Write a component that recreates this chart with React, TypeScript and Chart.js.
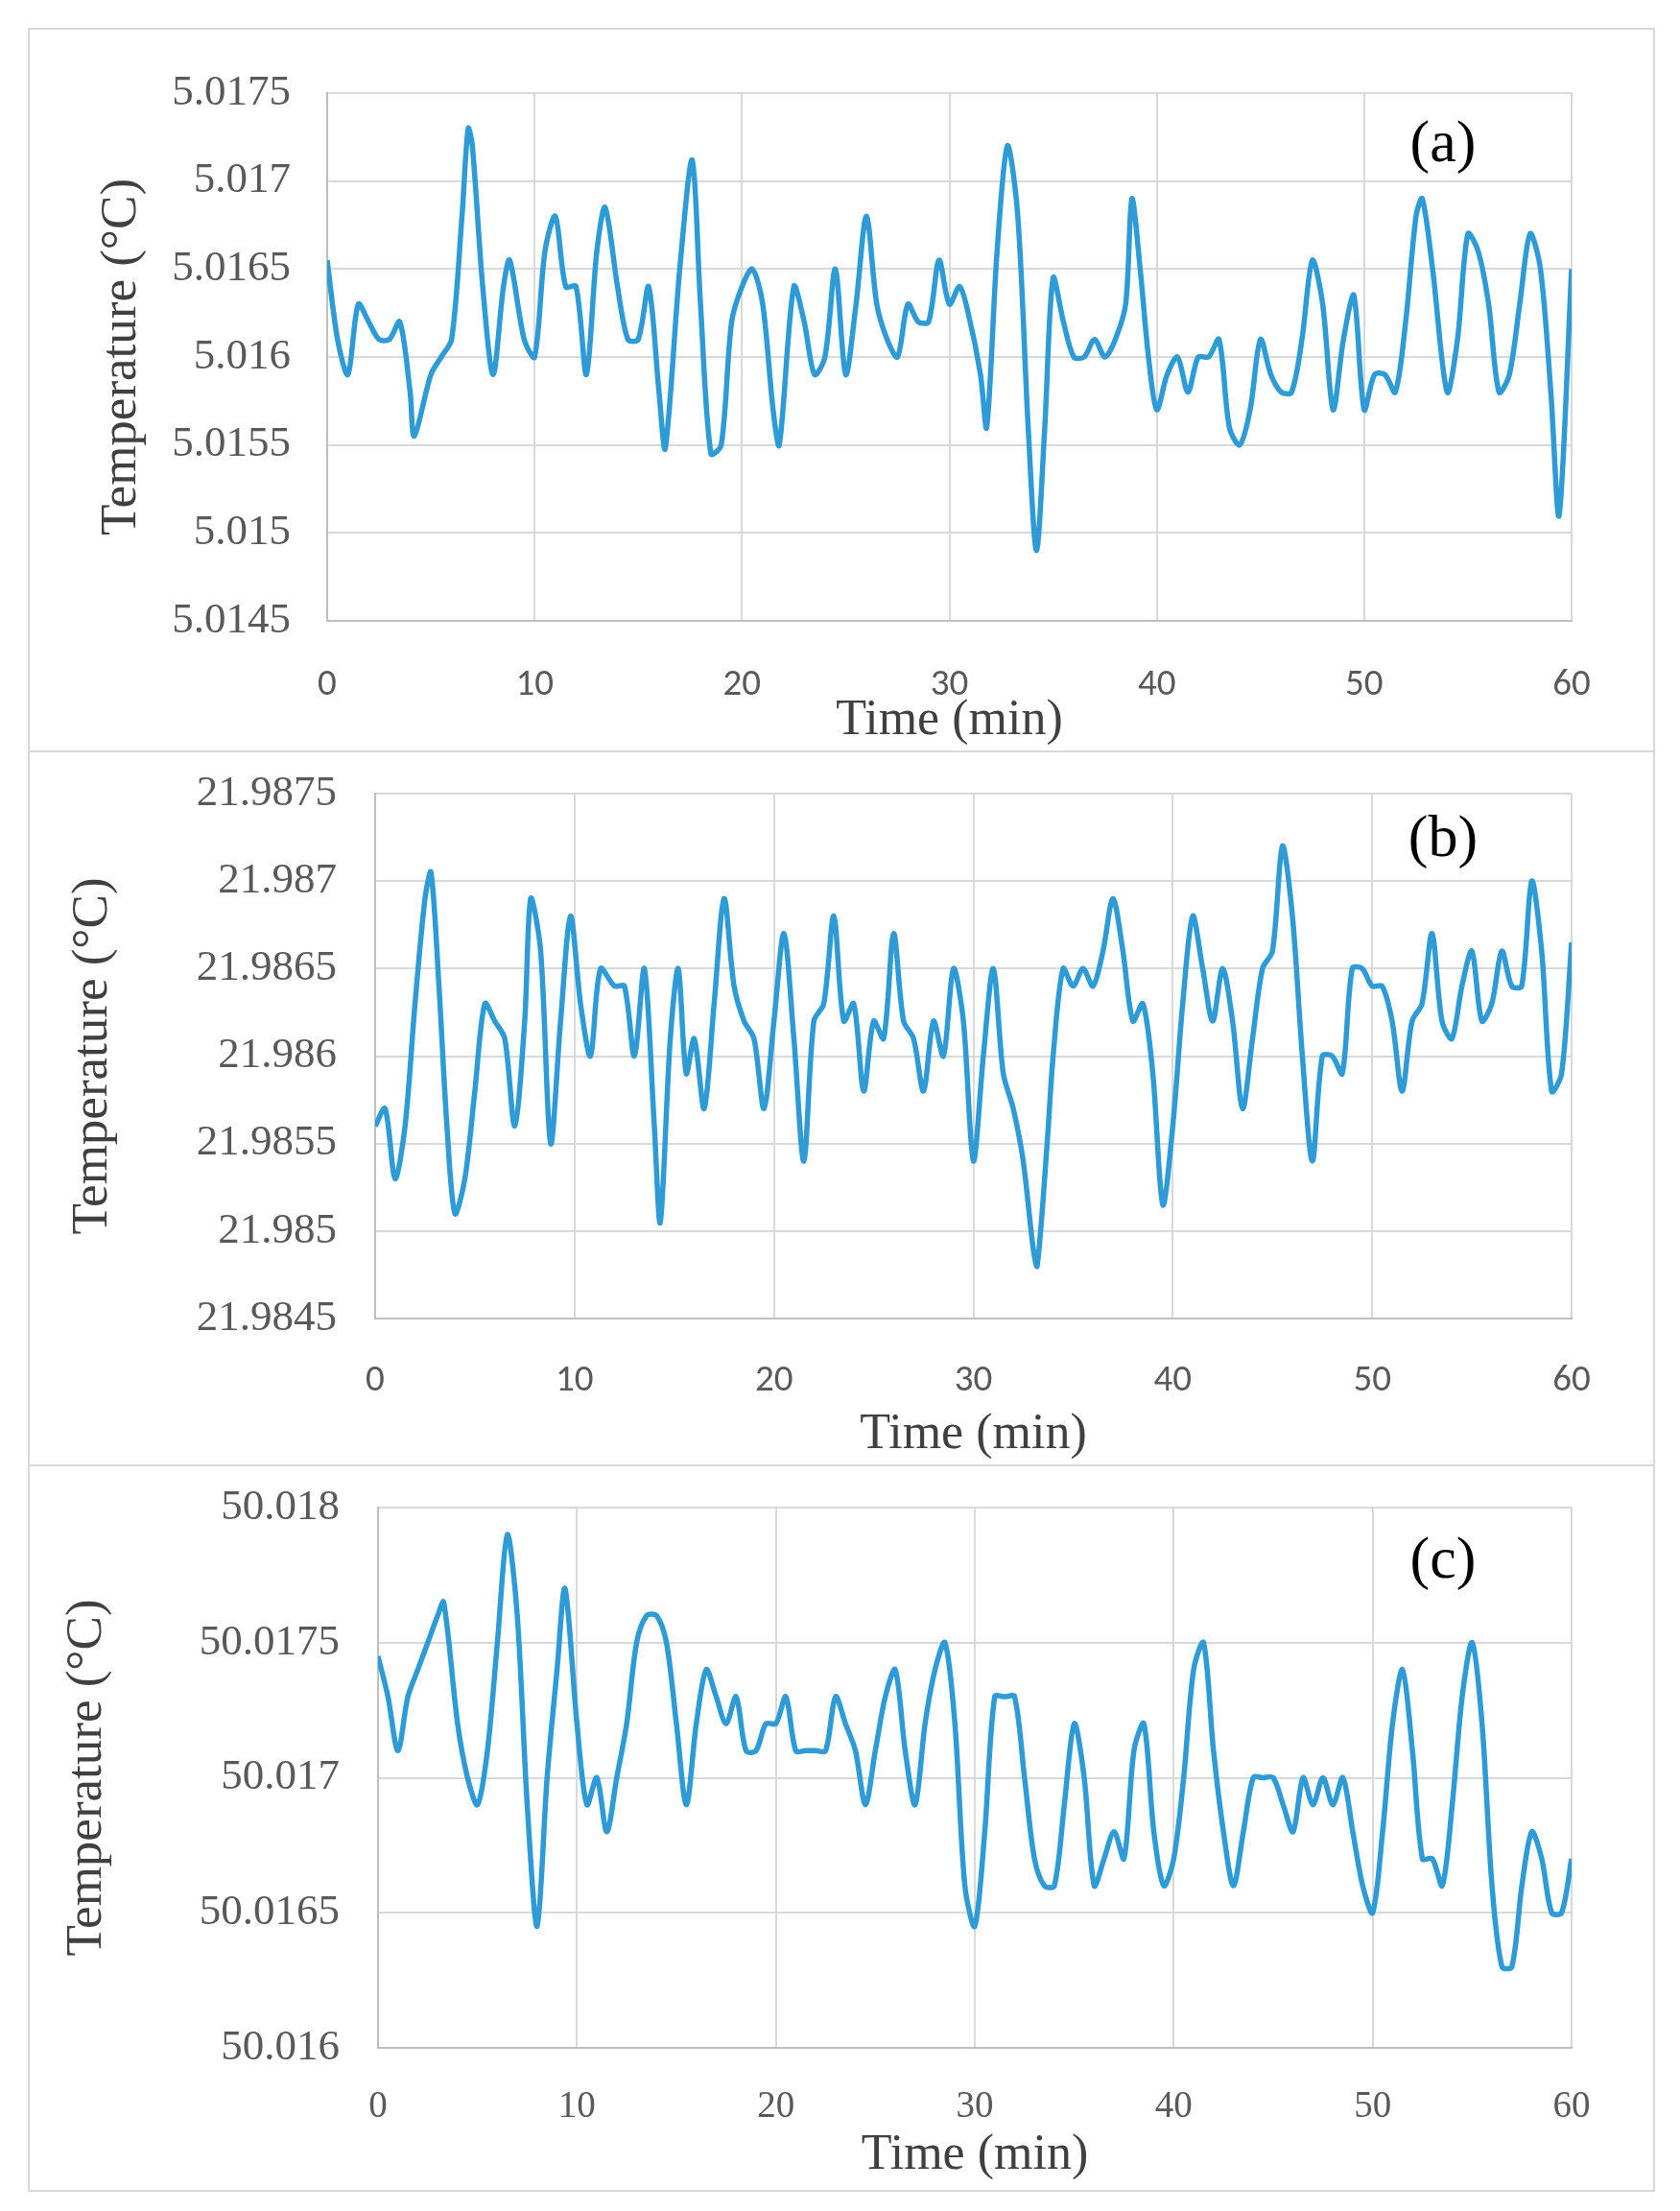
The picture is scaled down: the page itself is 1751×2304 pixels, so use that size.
import React, { useEffect, useRef } from "react";
import { Chart, registerables } from "chart.js";
Chart.register(...registerables);

const timesA = [0,0.5,1,1.5,2,2.5,3,3.5,4,4.2,5,5.5,6,6.5,6.8,7,7.5,8,8.5,8.8,9.5,10,10.5,11,11.5,12,12.5,13,13.4,14,14.5,15,15.5,16,16.3,17,17.6,18,18.5,19,19.5,20,20.5,21,21.5,21.8,22.5,23,23.5,24,24.5,25,25.5,26,26.5,27,27.5,28,28.5,29,29.5,30,30.5,31,31.5,31.8,32.3,32.8,33.3,33.8,34.2,34.6,35,35.5,36,36.5,37,37.5,38,38.5,38.8,39.2,39.6,40,40.5,41,41.5,42,42.5,43,43.5,44,44.5,45,45.5,46,46.5,47,47.5,48,48.5,49,49.5,50,50.5,51,51.5,52,52.5,52.8,53.3,54,54.5,55,55.5,56,56.5,57,57.5,58,58.5,59,59.4,60];
const valuesA = [5.01655,5.0161,5.0159,5.0163,5.0162,5.0161,5.0161,5.0162,5.0158,5.01555,5.0159,5.016,5.0161,5.0168,5.0173,5.0172,5.0164,5.0159,5.0164,5.01655,5.0161,5.016,5.0166,5.0168,5.0164,5.0164,5.0159,5.0166,5.01685,5.0164,5.0161,5.0161,5.0164,5.0158,5.01548,5.0165,5.01712,5.0163,5.01545,5.0155,5.0162,5.0164,5.0165,5.0163,5.0157,5.0155,5.0164,5.0162,5.0159,5.016,5.0165,5.0159,5.0163,5.0168,5.0163,5.0161,5.016,5.0163,5.0162,5.0162,5.01655,5.0163,5.0164,5.0162,5.0159,5.0156,5.0166,5.0172,5.0168,5.0156,5.0149,5.0156,5.01645,5.0162,5.016,5.016,5.0161,5.016,5.0161,5.0163,5.0169,5.0165,5.016,5.0157,5.0159,5.016,5.0158,5.016,5.016,5.0161,5.0156,5.0155,5.0157,5.0161,5.0159,5.0158,5.0158,5.0161,5.01655,5.0163,5.0157,5.0161,5.01635,5.0157,5.0159,5.0159,5.0158,5.0162,5.0168,5.0169,5.0165,5.0158,5.0161,5.0167,5.0166,5.0163,5.0158,5.0159,5.0163,5.0167,5.0165,5.0158,5.0151,5.0165];

const timesB = [0,0.5,1,1.5,2,2.5,2.8,3.2,3.6,4,4.5,5,5.5,6,6.5,7,7.5,7.8,8.3,8.8,9.3,9.8,10.3,10.8,11.3,12,12.5,13,13.5,14,14.3,14.8,15.2,15.6,16,16.5,17,17.5,18,18.5,19,19.5,20,20.5,21,21.5,22,22.5,23,23.5,24,24.5,25,25.5,26,26.5,27,27.5,28,28.5,29,29.5,30,30.5,31,31.5,32,32.5,33,33.2,33.7,34,34.5,35,35.5,36,36.5,37,37.5,38,38.5,39,39.5,40,40.5,41,41.5,42,42.5,43,43.5,44,44.5,45,45.5,46,46.5,47,47.5,48,48.5,49,49.5,50,50.5,51,51.5,52,52.5,53,53.5,54,54.5,55,55.5,56,56.5,57,57.5,58,58.5,59,59.5,60];
const valuesB = [21.9856,21.9857,21.9853,21.9856,21.9863,21.9869,21.98705,21.9864,21.9856,21.9851,21.9853,21.9858,21.9863,21.9862,21.9861,21.9856,21.9862,21.9869,21.9866,21.9855,21.9862,21.9868,21.9863,21.986,21.9865,21.9864,21.9864,21.986,21.9865,21.9856,21.98505,21.9861,21.9865,21.9859,21.9861,21.9857,21.9863,21.9869,21.9864,21.9862,21.9861,21.9857,21.9862,21.9867,21.9861,21.9854,21.9862,21.9863,21.9868,21.9862,21.9863,21.9858,21.9862,21.9861,21.9867,21.9862,21.9861,21.9858,21.9862,21.986,21.9865,21.9862,21.9854,21.986,21.9865,21.9859,21.9857,21.9854,21.9849,21.9848,21.9855,21.986,21.9865,21.9864,21.9865,21.9864,21.9866,21.9869,21.9866,21.9862,21.9863,21.9859,21.98515,21.9856,21.9863,21.9868,21.9865,21.9862,21.9865,21.9862,21.9857,21.9861,21.9865,21.9866,21.9872,21.9868,21.986,21.9854,21.986,21.986,21.9859,21.9865,21.9865,21.9864,21.9864,21.9862,21.9858,21.9862,21.9863,21.9867,21.9862,21.9861,21.9864,21.9866,21.9862,21.9863,21.9866,21.9864,21.9864,21.987,21.9866,21.9858,21.9859,21.98665];

const timesC = [0,0.5,1,1.5,2,2.5,3,3.3,4,4.5,5,5.5,6,6.5,7,7.5,8,8.5,9,9.4,10,10.5,11,11.5,12,12.5,13,13.5,14,14.5,15,15.5,16,16.5,17,17.5,18,18.5,19,19.5,20,20.5,21,21.5,22,22.5,23,23.5,24,24.5,25,25.5,26,26.5,27,27.5,28,28.5,29,29.5,30,30.5,31,31.5,32,32.5,33,33.5,34,34.5,35,35.5,36,36.5,37,37.5,38,38.5,39,39.5,40,40.5,41,41.5,42,42.5,43,43.5,44,44.5,45,45.5,46,46.5,47,47.5,48,48.5,49,49.5,50,50.5,51,51.5,52,52.5,53,53.5,54,54.5,55,55.5,56,56.5,57,57.5,58,58.5,59,59.5,60];
const valuesC = [50.01745,50.0173,50.0171,50.0173,50.0174,50.0175,50.0176,50.01765,50.0172,50.017,50.0169,50.0171,50.0175,50.0179,50.0176,50.0169,50.01645,50.017,50.0174,50.0177,50.0172,50.0169,50.017,50.0168,50.017,50.0172,50.0175,50.0176,50.0176,50.0175,50.0172,50.0169,50.0172,50.0174,50.0173,50.0172,50.0173,50.0171,50.0171,50.0172,50.0172,50.0173,50.0171,50.0171,50.0171,50.0171,50.0173,50.0172,50.0171,50.0169,50.0171,50.0173,50.0174,50.0171,50.0169,50.0172,50.0174,50.0175,50.0172,50.0166,50.01645,50.0168,50.0173,50.0173,50.0173,50.017,50.0167,50.0166,50.0166,50.0169,50.0172,50.017,50.0166,50.0167,50.0168,50.0167,50.0171,50.0172,50.0168,50.0166,50.0167,50.017,50.0174,50.0175,50.0171,50.0168,50.0166,50.0168,50.017,50.017,50.017,50.0169,50.0168,50.017,50.0169,50.017,50.0169,50.017,50.0168,50.0166,50.0165,50.0168,50.0172,50.0174,50.0171,50.0167,50.0167,50.0166,50.0169,50.0173,50.0175,50.0172,50.0166,50.0163,50.0163,50.0166,50.0168,50.0167,50.0165,50.0165,50.0167];

const xTicks = [0, 10, 20, 30, 40, 50, 60];
const panelLabels = ["(a)", "(b)", "(c)"];
const yRangeA = [5.0145, 5.0175];
const yRangeB = [21.9845, 21.9875];
const yRangeC = [50.016, 50.018];

const BOX_L = 29, BOX_R = 1725, CHART_R = 1638;

type P = {
  times: number[]; values: number[]; yMin: number; yMax: number; step: number;
  top: number; bottom: number; chartLeft: number; chartTop: number; chartBottom: number;
  yTitlePad: number; xTickPad: number; xTitlePad: number; yTickPad: number; xSerif: boolean;
};

function Panel(p: P) {
  const ref = useRef<HTMLCanvasElement>(null);
  useEffect(() => {
    const serif = "'Liberation Serif', 'Times New Roman', serif";
    const sans = "Carlito, 'Liberation Sans', 'Open Sans', sans-serif";
    const grid = "#d9d9d9";
    const chart = new Chart(ref.current!, {
      type: "scatter",
      data: {
        datasets: [{
          data: p.times.map((t, i) => ({ x: t, y: p.values[i] })),
          showLine: true, borderColor: "#2e9ad6", borderWidth: 5.5,
          pointRadius: 0, tension: 0.3,
        }],
      },
      options: {
        animation: false, responsive: false, maintainAspectRatio: false,
        layout: { padding: { top: p.chartTop - p.top, right: BOX_R - CHART_R, left: 0, bottom: 0 } },
        plugins: { legend: { display: false }, tooltip: { enabled: false } },
        scales: {
          x: {
            type: "linear", min: 0, max: 60,
            afterBuildTicks: (s: any) => { s.ticks = xTicks.map((v) => ({ value: v })); },
            afterFit: (s: any) => { s.height = p.bottom - p.chartBottom; },
            grid: { color: grid, lineWidth: 2, drawTicks: false },
            border: { color: "#bfbfbf", width: 2 },
            ticks: { padding: p.xTickPad, color: "#595959", font: { family: p.xSerif ? serif : sans, size: 39 } },
            title: { display: true, text: "Time (min)", color: "#404040", padding: { top: 0, bottom: p.xTitlePad }, font: { family: serif, size: 52 } },
          },
          y: {
            min: p.yMin, max: p.yMax,
            afterBuildTicks: (s: any) => {
              const t = [];
              const n = Math.round((p.yMax - p.yMin) / p.step);
              for (let i = 0; i <= n; i++) t.push({ value: p.yMin + i * p.step });
              s.ticks = t;
            },
            afterFit: (s: any) => { s.width = p.chartLeft - BOX_L; },
            grid: { color: grid, lineWidth: 2, drawTicks: false },
            border: { color: "#bfbfbf", width: 2 },
            ticks: {
              padding: p.yTickPad, color: "#595959", font: { family: serif, size: 45 },
              callback: (v: any) => String(parseFloat(Number(v).toFixed(4))),
            },
            title: { display: true, text: "Temperature (°C)", color: "#404040", padding: p.yTitlePad, font: { family: serif, size: 53 } },
          },
        },
      },
    });
    return () => chart.destroy();
  }, []);
  return (
    <canvas ref={ref} width={BOX_R - BOX_L} height={p.bottom - p.top}
      style={{ position: "absolute", left: BOX_L, top: p.top, width: BOX_R - BOX_L, height: p.bottom - p.top }} />
  );
}

export default function App() {
  const lbl = (text: string, top: number) => (
    <div style={{ position: "absolute", left: 1404, width: 200, top: top - 37, textAlign: "center", fontFamily: "'Liberation Serif', serif", fontSize: 62, lineHeight: "74px", color: "#000" }}>{text}</div>
  );
  return (
    <div style={{ position: "absolute", left: 0, top: 0, width: 1751, height: 2304, background: "#fff" }}>
      <div style={{ position: "absolute", left: BOX_L, top: 29, width: BOX_R - BOX_L - 4, height: 2284 - 29 - 4, border: "2px solid #d9d9d9" }} />
      <div style={{ position: "absolute", left: BOX_L, top: 782, width: BOX_R - BOX_L, height: 2, background: "#d9d9d9" }} />
      <div style={{ position: "absolute", left: BOX_L, top: 1526, width: BOX_R - BOX_L, height: 2, background: "#d9d9d9" }} />
      <Panel times={timesA} values={valuesA} yMin={yRangeA[0]} yMax={yRangeA[1]} step={0.0005}
        top={29} bottom={783} chartLeft={341} chartTop={97} chartBottom={647}
        yTitlePad={66} xTickPad={44} xTitlePad={0} yTickPad={38} xSerif={false} />
      <Panel times={timesB} values={valuesB} yMin={yRangeB[0]} yMax={yRangeB[1]} step={0.0005}
        top={753} bottom={1527} chartLeft={391} chartTop={827} chartBottom={1374}
        yTitlePad={36} xTickPad={42} xTitlePad={0} yTickPad={40} xSerif={false} />
      <Panel times={timesC} values={valuesC} yMin={yRangeC[0]} yMax={yRangeC[1]} step={0.0005}
        top={1497} bottom={2284} chartLeft={394} chartTop={1571} chartBottom={2134}
        yTitlePad={30} xTickPad={38} xTitlePad={6} yTickPad={40} xSerif={true} />
      {lbl(panelLabels[0], 147)}
      {lbl(panelLabels[1], 871)}
      {lbl(panelLabels[2], 1623)}
    </div>
  );
}
